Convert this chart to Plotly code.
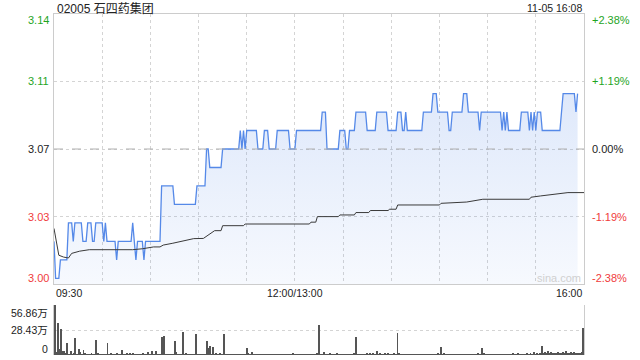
import plotly.graph_objects as go

# ---------------- data ----------------
title_text = "02005 石四药集团"
date_text = "11-05 16:08"
prev_close = 3.07
pct_limit = 2.38  # percent shown at top/bottom of price axis
time_labels = ["09:30", "12:00/13:00", "16:00"]
time_label_minutes = [0, 150, 330]
price_tick_labels = ["3.00", "3.03", "3.07", "3.11", "3.14"]
pct_tick_labels = ["-2.38%", "-1.19%", "0.00%", "+1.19%", "+2.38%"]
vol_tick_labels = ["0", "28.43万", "56.86万"]
vol_max = 56.86  # 万

# price, run-length encoded (level, number of minutes)
price_levels = [3.02, 3.00, 3.01, 3.03, 3.02, 3.03, 3.02, 3.03, 3.02, 3.03, 3.02, 3.03,
                3.02, 3.01, 3.02, 3.03, 3.02, 3.01, 3.02, 3.01, 3.02,
                3.05, 3.04, 3.05, 3.07, 3.06, 3.07, 3.08, 3.07, 3.08, 3.07, 3.08,
                3.07, 3.08, 3.07, 3.08, 3.07, 3.08, 3.09, 3.07, 3.08, 3.07, 3.08,
                3.09, 3.08, 3.09, 3.08, 3.09, 3.08, 3.09, 3.08, 3.09, 3.10, 3.09,
                3.08, 3.09, 3.10, 3.09, 3.08, 3.09, 3.08, 3.09, 3.08, 3.09, 3.08,
                3.09, 3.08, 3.09, 3.08, 3.09, 3.08, 3.09, 3.08, 3.09, 3.10, 3.09, 3.10]
price_counts = [1, 3, 5, 3, 1, 5, 3, 3, 2, 5, 1, 1,
                6, 1, 9, 1, 1, 1, 4, 1, 10,
                8, 14, 6, 2, 8, 11, 1, 1, 1, 1, 7,
                4, 3, 5, 8, 4, 16, 3, 8, 4, 2, 4,
                7, 6, 7, 6, 3, 2, 1, 10, 6, 3, 7,
                2, 7, 3, 7, 1, 13, 1, 1, 1, 1, 8,
                5, 1, 1, 1, 1, 1, 3, 12, 1, 8, 1, 1, 3]

# average price line (minute, value)
avg_minutes = [0, 3, 6, 9, 11, 16, 22, 49, 55, 62, 66, 68, 74, 80, 87, 93, 97, 100, 104,
               105, 118, 119, 159, 160, 163, 164, 177, 178, 187, 188, 196, 197, 208,
               209, 213, 214, 240, 241, 257, 267, 296, 297, 303, 311, 320, 330]
avg_values = [3.027, 3.0125, 3.0115, 3.011, 3.0135, 3.0147, 3.0155, 3.0155, 3.016, 3.017,
              3.017, 3.018, 3.019, 3.0203, 3.0215, 3.0216, 3.024, 3.0258, 3.0258,
              3.0285, 3.0285, 3.0294, 3.0294, 3.0304, 3.0304, 3.0334, 3.0334, 3.0343,
              3.0343, 3.0356, 3.0356, 3.0367, 3.0367, 3.0374, 3.0374, 3.0397, 3.0397,
              3.0406, 3.0413, 3.0428, 3.0428, 3.0439, 3.0446, 3.0455, 3.0464, 3.0464]

# volume per minute (万)
volume = [
    56.86, 3, 36.5, 7, 29.3, 5, 5, 1.5, 13.5, 1, 5, 1, 1.5, 19.3, 1, 7, 3, 1, 6, 2, 1, 0.8, 1, 1.5, 1, 1, 16.6, 2, 1, 0.8,
    1, 0.8, 1, 13.5, 1, 2, 1, 0.8, 1, 2, 1, 1, 6, 1, 0.8, 1.5, 1, 1.5, 1, 1.5, 0.8, 1, 1, 0.8, 1, 2.5, 1, 1, 3, 1,
    1, 5, 1, 5, 1, 0.8, 1, 20.5, 21.6, 1, 0.8, 1, 1, 0.8, 1, 16, 3, 1, 0.8, 1, 26.2, 1, 1.5, 0.8, 1, 0.8, 1, 1, 23.5, 1,
    0.8, 1, 1, 0.8, 1, 15.5, 7.5, 9.8, 1, 8.6, 1, 1.5, 1, 2.5, 1, 1, 23.5, 1, 0.8, 1, 1, 0.8, 1, 1, 0.8, 1, 1, 0.8, 1, 1,
    7.5, 1.5, 1, 3, 1, 0.8, 1, 1, 0.8, 1, 1, 0.8, 1, 1, 0.8, 1, 1, 0.8, 1, 1, 0.8, 1, 1, 0.8, 1, 1, 0.8, 1, 1, 1.5,
    1, 1, 0.8, 1, 1, 0.8, 1, 1, 0.8, 1, 1, 0.8, 1, 1, 1.5, 33.9, 1, 1, 3.5, 1, 0.8, 1, 1.5, 1, 0.8, 1, 1.5, 1, 0.8, 1,
    1, 0.8, 1, 1, 0.8, 1, 1, 1.5, 20.1, 1, 0.8, 1, 1, 0.8, 1, 1.5, 1, 2, 1, 1.5, 1, 5, 1, 1.5, 1, 1, 2, 1, 1.5, 1,
    1, 1, 1.5, 1, 25, 2, 1, 1, 0.8, 1, 1, 0.8, 1, 1, 0.8, 1, 1, 0.8, 1, 1, 0.8, 1, 1, 0.8, 1, 1, 0.8, 1, 1, 1.5,
    1, 9, 1, 1.5, 1, 1, 0.8, 1, 1, 0.8, 1, 1, 0.8, 1, 1, 0.8, 1, 1, 0.8, 1, 1, 0.8, 1, 1, 1.5, 1, 1, 7.5, 1.5, 1,
    1, 0.8, 1, 1, 0.8, 1, 1, 0.8, 1, 1, 0.8, 1, 1, 0.8, 1, 1, 1.5, 1, 1, 1.5, 1, 1, 0.8, 1, 1, 1.5, 1, 1.5, 1, 3,
    1, 2, 1, 1.5, 9.8, 2, 3.5, 2, 4, 2, 3, 2.5, 1.5, 2, 3, 2, 1.5, 3.5, 2, 4, 2, 2.5, 3, 1.5, 3, 2, 2.5, 1.5, 2, 3,
    30.8,
]

# decode run-length price series
price = []
for lvl, n in zip(price_levels, price_counts):
    price.extend([lvl] * n)
minutes = list(range(len(price)))
vol_minutes = list(range(len(volume)))

# ---------------- layout helpers ----------------
W, H = 640, 360
def px_x(px):
    return px / W
def px_y(py):
    return 1 - py / H

x0, x1 = 54, 584
py_top, py_bot = 14, 284
vy_top, vy_bot = 305, 355

ymin = prev_close * (1 - pct_limit / 100)
ymax = prev_close * (1 + pct_limit / 100)
price_ticks = [prev_close * (1 + k * pct_limit / 200) for k in (-2, -1, 0, 1, 2)]
vol_ticks = [0, vol_max / 2, vol_max]

GREEN = "#1fa51f"
RED = "#f03c3c"
BLACK = "#222222"
FONT = "Liberation Sans, Arial, Noto Sans CJK SC"

fig = go.Figure()

fig.add_trace(go.Scatter(
    x=minutes, y=price, mode="lines",
    line=dict(color="#5589e8", width=1.3),
    fill="tozeroy",
    fillgradient=dict(type="vertical", start=ymin, stop=max(price),
                      colorscale=[[0, "rgba(85,137,232,0.05)"], [1, "rgba(85,137,232,0.19)"]]),
    hoverinfo="skip", xaxis="x", yaxis="y",
))
fig.add_trace(go.Scatter(
    x=avg_minutes, y=avg_values, mode="lines",
    line=dict(color="#3a3a3a", width=1),
    hoverinfo="skip", xaxis="x", yaxis="y",
))
fig.add_trace(go.Bar(
    x=vol_minutes, y=volume, width=0.6,
    marker=dict(color="#555555", line=dict(width=0)),
    hoverinfo="skip", xaxis="x2", yaxis="y2",
))

grid = "#d4d4d4"
fig.update_layout(
    width=W, height=H, margin=dict(l=0, r=0, t=0, b=0),
    paper_bgcolor="white", plot_bgcolor="white",
    showlegend=False, bargap=0,
    font=dict(family=FONT, size=11, color=BLACK),
    xaxis=dict(domain=[px_x(x0), px_x(x1)], range=[0, 330], anchor="y",
               tickvals=list(range(0, 331, 30)), showticklabels=False, ticks="",
               showgrid=True, gridcolor=grid, griddash="dot", gridwidth=1,
               showline=True, linecolor="#cccccc", mirror=True, zeroline=False),
    yaxis=dict(domain=[px_y(py_bot), px_y(py_top)], range=[ymin, ymax], anchor="x",
               tickvals=price_ticks, showticklabels=False, ticks="",
               showgrid=True, gridcolor=grid, griddash="dot", gridwidth=1,
               showline=True, linecolor="#cccccc", mirror=True, zeroline=False),
    xaxis2=dict(domain=[px_x(x0), px_x(x1)], range=[-0.4, 330.4], anchor="y2",
                showticklabels=False, ticks="", showgrid=False,
                showline=False, zeroline=False),
    yaxis2=dict(domain=[px_y(vy_bot), px_y(vy_top)], range=[0, vol_max], anchor="x2",
                tickvals=vol_ticks, showticklabels=False, ticks="",
                showgrid=True, gridcolor=grid, griddash="dot", gridwidth=1,
                showline=True, linecolor="#cccccc", mirror=True, zeroline=False),
)

# previous close dashed line
fig.add_shape(type="line", xref="x", yref="y", x0=0, x1=330, y0=prev_close, y1=prev_close,
              line=dict(color="#b0b0b0", width=1, dash="dash"), layer="above")

ann = []
price_colors = [RED, RED, BLACK, GREEN, GREEN]
shifts = [6, 0, 0, 0, -6]
for v, t, c, s in zip(price_ticks, price_tick_labels, price_colors, shifts):
    ann.append(dict(x=px_x(51), xref="paper", y=v, yref="y", text=t, showarrow=False,
                    xanchor="right", yanchor="middle", yshift=s,
                    font=dict(size=11, color=c, family=FONT)))
for v, t, c, s in zip(price_ticks, pct_tick_labels, price_colors, shifts):
    ann.append(dict(x=px_x(590), xref="paper", y=v, yref="y", text=t, showarrow=False,
                    xanchor="left", yanchor="middle", yshift=s,
                    font=dict(size=11, color=c, family=FONT)))
vshifts = [6.5, 0, -7.5]
for v, t, s in zip(vol_ticks, vol_tick_labels, vshifts):
    ann.append(dict(x=px_x(50), xref="paper", y=v, yref="y2", text=t, showarrow=False,
                    xanchor="right", yanchor="middle", yshift=s,
                    font=dict(size=10.5, color=BLACK, family=FONT)))
anchors = ["left", "center", "right"]
for m, t, a in zip(time_label_minutes, time_labels, anchors):
    ann.append(dict(x=m, xref="x", y=px_y(293), yref="paper", text=t, showarrow=False,
                    xanchor=a, yanchor="middle", font=dict(size=10.5, color=BLACK, family=FONT)))
ann.append(dict(x=px_x(55), xref="paper", y=px_y(8), yref="paper", text=title_text,
                showarrow=False, xanchor="left", yanchor="middle",
                font=dict(size=12, color=BLACK, family=FONT)))
ann.append(dict(x=px_x(584), xref="paper", y=px_y(8), yref="paper", text=date_text,
                showarrow=False, xanchor="right", yanchor="middle",
                font=dict(size=10.5, color=BLACK, family=FONT)))
ann.append(dict(x=px_x(583), xref="paper", y=px_y(278), yref="paper", text="sina.com",
                showarrow=False, xanchor="right", yanchor="middle",
                font=dict(size=11, color="#d0d0d0", family=FONT)))
fig.update_layout(annotations=ann)

fig.write_html("out.html")
